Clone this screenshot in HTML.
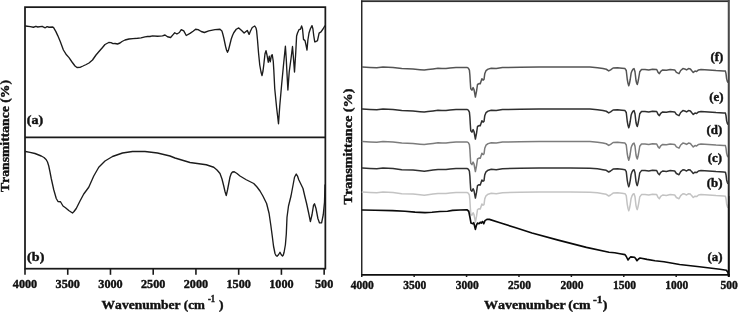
<!DOCTYPE html>
<html><head><meta charset="utf-8"><title>FTIR spectra</title>
<style>
html,body{margin:0;padding:0;background:#fff;}
body{width:738px;height:312px;overflow:hidden;position:relative;}
svg{position:absolute;left:0;top:0;display:block;}
text{font-family:"Liberation Serif","Times New Roman",serif;font-weight:bold;font-kerning:none;fill:#111;stroke:#111;stroke-width:0.4px;}
</style></head><body>
<svg width="738" height="312" viewBox="0 0 738 312">
<rect x="0" y="0" width="738" height="312" fill="#ffffff"/>
<g stroke="#1a1a1a" fill="none">
<rect x="25.0" y="7.15" width="300.35" height="261.55" stroke-width="1.75"/>
<line x1="25.0" y1="137.25" x2="325.35" y2="137.25" stroke-width="1.75"/>
<line x1="25.00" y1="268.7" x2="25.00" y2="274.8" stroke-width="1.6"/>
<line x1="67.74" y1="268.7" x2="67.74" y2="274.8" stroke-width="1.6"/>
<line x1="110.47" y1="268.7" x2="110.47" y2="274.8" stroke-width="1.6"/>
<line x1="153.21" y1="268.7" x2="153.21" y2="274.8" stroke-width="1.6"/>
<line x1="195.94" y1="268.7" x2="195.94" y2="274.8" stroke-width="1.6"/>
<line x1="238.68" y1="268.7" x2="238.68" y2="274.8" stroke-width="1.6"/>
<line x1="281.41" y1="268.7" x2="281.41" y2="274.8" stroke-width="1.6"/>
<line x1="324.15" y1="268.7" x2="324.15" y2="274.8" stroke-width="1.6"/>
</g>
<polyline points="25.50,26.00 30.25,26.60 33.40,27.25 35.90,26.30 37.75,27.00 42.10,26.30 45.25,27.80 47.10,26.60 49.00,27.25 52.75,27.00 53.60,27.60 55.90,31.60 57.75,35.60 60.25,41.50 63.40,50.00 66.00,54.20 69.00,57.60 72.00,62.00 75.00,66.00 77.00,67.50 80.00,67.30 83.00,66.00 86.25,64.50 89.00,63.00 92.50,60.00 96.00,55.00 99.00,51.50 102.50,47.50 105.00,44.50 108.75,42.50 111.00,42.60 113.00,43.60 115.00,43.50 117.50,44.00 120.00,43.00 122.00,41.50 125.00,40.00 129.00,39.00 133.00,38.60 137.50,38.25 141.00,37.80 145.00,36.80 147.50,36.50 150.00,36.50 152.50,35.90 157.50,36.25 162.50,35.90 165.00,35.00 167.50,36.75 170.60,37.50 173.10,34.60 174.75,32.75 176.90,34.00 179.40,32.50 181.25,29.60 183.75,30.90 186.25,35.50 190.00,33.40 193.10,31.25 195.60,29.25 198.10,29.60 201.25,31.50 204.40,32.50 208.75,30.90 215.00,29.60 220.00,29.25 221.90,30.90 222.80,34.00 223.75,37.75 225.60,46.50 226.60,50.30 227.50,52.30 228.40,50.30 229.40,46.50 231.25,39.00 232.50,35.50 233.75,32.75 236.25,29.25 238.75,27.90 241.60,30.60 244.10,33.10 247.25,30.40 249.10,34.40 250.50,31.00 252.25,27.50 254.75,26.00 256.00,28.00 256.60,30.60 257.50,40.00 258.50,52.50 259.75,65.00 261.00,72.00 262.00,75.60 263.00,71.00 263.75,65.00 265.00,53.75 266.00,50.60 267.00,55.00 268.25,62.25 269.25,56.25 270.25,61.90 271.40,55.60 272.25,54.75 273.25,61.25 273.80,70.00 274.75,88.75 276.60,107.50 278.50,123.75 279.75,106.00 281.60,85.00 283.50,65.00 285.40,46.25 286.25,58.75 286.80,70.00 287.90,90.00 289.20,72.00 291.00,58.75 292.50,46.50 293.50,58.75 294.50,72.00 295.75,52.50 296.60,36.00 297.50,33.00 299.10,29.40 300.40,29.40 301.60,26.00 302.50,28.75 303.50,39.40 305.00,40.60 306.00,45.00 307.00,50.00 307.90,40.00 309.00,33.00 310.40,28.75 312.00,25.60 312.90,28.75 313.80,36.00 314.75,41.90 316.00,41.50 317.50,40.60 319.10,33.10 321.00,31.90 323.00,29.00 324.75,26.00" fill="none" stroke="#1c1c1c" stroke-width="1.35" stroke-linejoin="round" stroke-linecap="round" />
<polyline points="25.50,151.50 30.00,152.30 35.00,153.50 41.25,156.00 44.00,157.50 46.25,159.75 47.50,162.00 48.75,166.00 50.00,172.00 51.25,178.50 53.75,189.75 56.25,198.50 58.00,201.50 60.50,201.75 63.00,206.00 65.50,207.75 68.75,210.50 72.50,213.00 74.00,211.50 76.25,208.50 80.00,201.00 83.75,194.00 88.75,187.25 93.75,176.00 98.75,167.25 105.00,161.00 112.50,156.50 122.50,153.00 132.50,151.50 145.00,151.50 157.50,153.00 170.00,156.00 175.00,158.00 190.00,162.50 206.25,164.75 213.75,167.25 217.00,170.00 220.00,173.50 222.00,179.00 223.75,186.00 225.00,191.50 226.25,195.50 227.50,190.00 228.75,183.50 230.00,177.00 231.25,173.50 232.50,172.00 234.25,171.75 237.00,173.50 240.00,176.00 246.25,179.75 253.75,183.50 257.00,187.00 260.00,191.00 262.90,196.00 266.60,203.50 269.10,213.50 270.75,224.75 272.25,236.00 273.50,246.00 275.00,253.50 276.00,255.50 277.00,256.25 278.50,254.75 280.00,252.25 281.25,254.75 282.50,256.00 283.30,255.00 284.10,252.25 285.40,244.75 286.30,234.00 287.00,217.25 288.50,206.00 291.00,196.00 292.50,188.00 294.50,177.25 296.25,174.00 297.50,176.00 298.75,179.75 303.00,188.50 304.75,196.00 306.60,203.50 308.50,212.25 310.40,221.60 312.00,214.75 313.50,205.40 314.50,203.75 316.00,208.50 317.90,218.50 319.50,222.90 321.60,222.90 323.25,214.75 324.50,202.25 325.00,185.00" fill="none" stroke="#1c1c1c" stroke-width="1.35" stroke-linejoin="round" stroke-linecap="round" />
<defs><linearGradient id="rg" x1="0" y1="0" x2="0" y2="1"><stop offset="0" stop-color="#4c4c4c"/><stop offset="0.6" stop-color="#383838"/><stop offset="0.75" stop-color="#1a1a1a"/><stop offset="1" stop-color="#0c0c0c"/></linearGradient></defs>
<rect x="361.05" y="0" width="368.7999999999999" height="1.05" fill="#6a6a6a"/>
<rect x="361.05" y="1" width="368.7999999999999" height="1.08" fill="#303030"/>
<g stroke="#1e1e1e" fill="none">
<line x1="361.75" y1="0.5" x2="361.75" y2="274.85" stroke-width="1.4"/>
<line x1="361.05" y1="274.85" x2="729.8499999999999" y2="274.85" stroke-width="1.7" stroke="#0e0e0e"/>
<line x1="361.75" y1="274.85" x2="361.75" y2="277.0" stroke-width="1.5"/>
<line x1="414.16" y1="274.85" x2="414.16" y2="277.0" stroke-width="1.5"/>
<line x1="466.56" y1="274.85" x2="466.56" y2="277.0" stroke-width="1.5"/>
<line x1="518.97" y1="274.85" x2="518.97" y2="277.0" stroke-width="1.5"/>
<line x1="571.38" y1="274.85" x2="571.38" y2="277.0" stroke-width="1.5"/>
<line x1="623.79" y1="274.85" x2="623.79" y2="277.0" stroke-width="1.5"/>
<line x1="676.19" y1="274.85" x2="676.19" y2="277.0" stroke-width="1.5"/>
</g>
<polyline points="362.40,192.10 370.00,192.50 376.75,192.85 383.00,192.10 388.00,192.30 393.00,192.50 401.75,193.70 413.00,194.10 420.00,194.80 424.25,195.20 428.00,194.70 433.00,194.00 438.00,193.40 442.00,193.50 446.00,193.60 450.00,193.00 456.00,192.50 466.90,192.50 468.30,193.20 469.40,195.20 469.90,200.40 470.30,207.40 470.75,213.90 471.90,215.20 473.10,212.70 474.00,214.60 475.40,222.10 476.50,216.40 477.50,209.60 479.00,208.70 480.25,208.90 481.90,203.90 483.10,205.20 484.00,204.60 484.75,198.90 486.00,195.80 488.10,194.20 491.25,193.30 496.25,193.70 502.50,192.70 520.00,192.30 539.00,192.10 570.00,192.10 590.00,192.20 597.50,192.85 603.00,193.70 606.25,194.35 608.75,196.00 610.60,195.00 613.10,193.10 617.50,192.85 622.00,193.30 625.00,193.70 626.25,195.60 627.25,204.35 628.00,208.40 628.75,210.85 629.50,208.40 630.25,204.35 631.10,198.40 631.90,196.20 633.00,194.20 634.00,193.70 635.00,196.85 636.00,205.60 636.70,208.40 637.25,209.60 637.90,207.40 638.50,204.35 639.75,196.85 641.50,194.60 645.00,194.60 648.75,195.00 652.50,194.35 656.70,194.60 658.10,197.50 659.40,198.70 660.70,196.40 662.70,195.00 666.40,195.40 670.20,194.60 674.70,195.00 676.40,197.50 679.00,198.70 680.70,195.60 682.90,193.70 684.75,194.10 686.60,195.00 688.50,193.70 690.40,194.10 691.60,195.60 693.25,197.50 695.00,196.20 696.60,196.60 698.50,195.00 701.00,194.60 708.50,195.00 716.00,195.60 723.50,196.00 725.40,196.20 726.00,198.70 726.60,203.70 727.25,206.20 727.80,207.40" fill="none" stroke="#c3c3c3" stroke-width="1.5" stroke-linejoin="round" stroke-linecap="round" />
<polyline points="362.40,168.10 370.00,168.50 376.75,168.85 383.00,168.10 388.00,168.30 393.00,168.50 401.75,169.70 413.00,170.10 420.00,170.80 424.25,171.20 428.00,170.70 433.00,170.00 438.00,169.40 442.00,169.50 446.00,169.60 450.00,169.00 456.00,168.50 466.90,168.50 468.30,169.20 469.40,171.20 469.90,176.40 470.30,183.40 470.75,189.90 471.90,191.20 473.10,188.70 474.00,190.60 475.40,198.10 476.50,192.40 477.50,185.60 479.00,184.70 480.25,184.90 481.90,179.90 483.10,181.20 484.00,180.60 484.75,174.90 486.00,171.80 488.10,170.20 491.25,169.30 496.25,169.70 502.50,168.70 520.00,168.30 539.00,168.10 570.00,168.10 590.00,168.20 597.50,168.85 603.00,169.70 606.25,170.35 608.75,172.00 610.60,171.00 613.10,169.10 617.50,168.85 622.00,169.30 625.00,169.70 626.25,171.60 627.25,180.35 628.00,184.40 628.75,186.85 629.50,184.40 630.25,180.35 631.10,174.40 631.90,172.20 633.00,170.20 634.00,169.70 635.00,172.85 636.00,181.60 636.70,184.40 637.25,185.60 637.90,183.40 638.50,180.35 639.75,172.85 641.50,170.60 645.00,170.60 648.75,171.00 652.50,170.35 656.70,170.60 658.10,173.50 659.40,174.70 660.70,172.40 662.70,171.00 666.40,171.40 670.20,170.60 674.70,171.00 676.40,173.50 679.00,174.70 680.70,171.60 682.90,169.70 684.75,170.10 686.60,171.00 688.50,169.70 690.40,170.10 691.60,171.60 693.25,173.50 695.00,172.20 696.60,172.60 698.50,171.00 701.00,170.60 708.50,171.00 716.00,171.60 723.50,172.00 725.40,172.20 726.00,174.70 726.60,179.70 727.25,182.20 727.80,183.40" fill="none" stroke="#303030" stroke-width="1.5" stroke-linejoin="round" stroke-linecap="round" />
<polyline points="362.40,141.50 370.00,141.90 376.75,142.25 383.00,141.50 388.00,141.70 393.00,141.90 401.75,143.10 413.00,143.50 420.00,144.20 424.25,144.60 428.00,144.10 433.00,143.40 438.00,142.80 442.00,142.90 446.00,143.00 450.00,142.40 456.00,141.90 466.90,141.90 468.30,142.60 469.40,144.60 469.90,149.80 470.30,156.80 470.75,163.30 471.90,164.60 473.10,162.10 474.00,164.00 475.40,171.50 476.50,165.80 477.50,159.00 479.00,158.10 480.25,158.30 481.90,153.30 483.10,154.60 484.00,154.00 484.75,148.30 486.00,145.20 488.10,143.60 491.25,142.70 496.25,143.10 502.50,142.10 520.00,141.70 539.00,141.50 570.00,141.50 590.00,141.60 597.50,142.25 603.00,143.10 606.25,143.75 608.75,145.40 610.60,144.40 613.10,142.50 617.50,142.25 622.00,142.70 625.00,143.10 626.25,145.00 627.25,153.75 628.00,157.80 628.75,160.25 629.50,157.80 630.25,153.75 631.10,147.80 631.90,145.60 633.00,143.60 634.00,143.10 635.00,146.25 636.00,155.00 636.70,157.80 637.25,159.00 637.90,156.80 638.50,153.75 639.75,146.25 641.50,144.00 645.00,144.00 648.75,144.40 652.50,143.75 656.70,144.00 658.10,146.90 659.40,148.10 660.70,145.80 662.70,144.40 666.40,144.80 670.20,144.00 674.70,144.40 676.40,146.90 679.00,148.10 680.70,145.00 682.90,143.10 684.75,143.50 686.60,144.40 688.50,143.10 690.40,143.50 691.60,145.00 693.25,146.90 695.00,145.60 696.60,146.00 698.50,144.40 701.00,144.00 708.50,144.40 716.00,145.00 723.50,145.40 725.40,145.60 726.00,148.10 726.60,153.10 727.25,155.60 727.80,156.80" fill="none" stroke="#7c7c7c" stroke-width="1.5" stroke-linejoin="round" stroke-linecap="round" />
<polyline points="362.40,109.00 370.00,109.40 376.75,109.75 383.00,109.00 388.00,109.20 393.00,109.40 401.75,110.60 413.00,111.00 420.00,111.70 424.25,112.10 428.00,111.60 433.00,110.90 438.00,110.30 442.00,110.40 446.00,110.50 450.00,109.90 456.00,109.40 466.90,109.40 468.30,110.10 469.40,112.10 469.90,117.30 470.30,124.30 470.75,130.80 471.90,132.10 473.10,129.60 474.00,131.50 475.40,139.00 476.50,133.30 477.50,126.50 479.00,125.60 480.25,125.80 481.90,120.80 483.10,122.10 484.00,121.50 484.75,115.80 486.00,112.70 488.10,111.10 491.25,110.20 496.25,110.60 502.50,109.60 520.00,109.20 539.00,109.00 570.00,109.00 590.00,109.10 597.50,109.75 603.00,110.60 606.25,111.25 608.75,112.90 610.60,111.90 613.10,110.00 617.50,109.75 622.00,110.20 625.00,110.60 626.25,112.50 627.25,121.25 628.00,125.30 628.75,127.75 629.50,125.30 630.25,121.25 631.10,115.30 631.90,113.10 633.00,111.10 634.00,110.60 635.00,113.75 636.00,122.50 636.70,125.30 637.25,126.50 637.90,124.30 638.50,121.25 639.75,113.75 641.50,111.50 645.00,111.50 648.75,111.90 652.50,111.25 656.70,111.50 658.10,114.40 659.40,115.60 660.70,113.30 662.70,111.90 666.40,112.30 670.20,111.50 674.70,111.90 676.40,114.40 679.00,115.60 680.70,112.50 682.90,110.60 684.75,111.00 686.60,111.90 688.50,110.60 690.40,111.00 691.60,112.50 693.25,114.40 695.00,113.10 696.60,113.50 698.50,111.90 701.00,111.50 708.50,111.90 716.00,112.50 723.50,112.90 725.40,113.10 726.00,115.60 726.60,120.60 727.25,123.10 727.80,124.30" fill="none" stroke="#2e2e2e" stroke-width="1.5" stroke-linejoin="round" stroke-linecap="round" />
<polyline points="362.40,67.00 370.00,67.40 376.75,67.75 383.00,67.00 388.00,67.20 393.00,67.40 401.75,68.60 413.00,69.00 420.00,69.70 424.25,70.10 428.00,69.60 433.00,68.90 438.00,68.30 442.00,68.40 446.00,68.50 450.00,67.90 456.00,67.40 466.90,67.40 468.30,68.10 469.40,70.10 469.90,75.30 470.30,82.30 470.75,88.80 471.90,90.10 473.10,87.60 474.00,89.50 475.40,97.00 476.50,91.30 477.50,84.50 479.00,83.60 480.25,83.80 481.90,78.80 483.10,80.10 484.00,79.50 484.75,73.80 486.00,70.70 488.10,69.10 491.25,68.20 496.25,68.60 502.50,67.60 520.00,67.20 539.00,67.00 570.00,67.00 590.00,67.10 597.50,67.75 603.00,68.60 606.25,69.25 608.75,70.90 610.60,69.90 613.10,68.00 617.50,67.75 622.00,68.20 625.00,68.60 626.25,70.50 627.25,79.25 628.00,83.30 628.75,85.75 629.50,83.30 630.25,79.25 631.10,73.30 631.90,71.10 633.00,69.10 634.00,68.60 635.00,71.75 636.00,80.50 636.70,83.30 637.25,84.50 637.90,82.30 638.50,79.25 639.75,71.75 641.50,69.50 645.00,69.50 648.75,69.90 652.50,69.25 656.70,69.50 658.10,72.40 659.40,73.60 660.70,71.30 662.70,69.90 666.40,70.30 670.20,69.50 674.70,69.90 676.40,72.40 679.00,73.60 680.70,70.50 682.90,68.60 684.75,69.00 686.60,69.90 688.50,68.60 690.40,69.00 691.60,70.50 693.25,72.40 695.00,71.10 696.60,71.50 698.50,69.90 701.00,69.50 708.50,69.90 716.00,70.50 723.50,70.90 725.40,71.10 726.00,73.60 726.60,78.60 727.25,81.10 727.80,82.30" fill="none" stroke="#545454" stroke-width="1.5" stroke-linejoin="round" stroke-linecap="round" />
<polyline points="362.40,210.00 375.00,210.20 392.50,210.60 405.00,211.30 415.00,212.10 425.00,212.60 432.00,212.20 440.00,211.50 447.50,211.25 452.50,210.40 460.00,210.00 466.90,209.75 468.75,211.25 470.00,217.50 471.00,223.10 472.75,223.75 473.75,222.75 475.40,229.40 476.50,225.00 477.50,223.10 479.00,223.75 480.25,222.25 481.25,223.10 482.50,221.50 483.75,223.75 485.00,220.60 486.90,219.40 489.40,219.40 500.00,222.70 515.00,227.50 532.00,233.00 558.20,240.10 586.40,247.40 609.00,252.20 614.70,252.80 620.00,253.70 625.00,254.60 626.30,256.50 628.00,260.00 629.50,258.00 630.75,256.90 634.50,257.20 635.80,258.80 637.00,260.75 638.50,259.00 640.00,258.00 647.00,259.40 655.00,260.70 664.00,261.70 679.60,264.50 699.40,266.80 720.00,269.30 726.40,270.30 728.00,272.50 728.40,274.80" fill="none" stroke="#0a0a0a" stroke-width="1.65" stroke-linejoin="round" stroke-linecap="round" />
<rect x="727.75" y="0" width="2.1" height="277.0" fill="url(#rg)"/>
<rect x="728.9499999999999" y="0" width="0.9" height="196" fill="#707070" opacity="0.85"/>
<text transform="translate(25.0 288.4) scale(1.06 1.0)" font-size="11.5" text-anchor="middle">4000</text>
<text transform="translate(67.74 288.4) scale(1.06 1.0)" font-size="11.5" text-anchor="middle">3500</text>
<text transform="translate(110.47 288.4) scale(1.06 1.0)" font-size="11.5" text-anchor="middle">3000</text>
<text transform="translate(153.21 288.4) scale(1.06 1.0)" font-size="11.5" text-anchor="middle">2500</text>
<text transform="translate(195.94 288.4) scale(1.06 1.0)" font-size="11.5" text-anchor="middle">2000</text>
<text transform="translate(238.68 288.4) scale(1.06 1.0)" font-size="11.5" text-anchor="middle">1500</text>
<text transform="translate(281.41 288.4) scale(1.06 1.0)" font-size="11.5" text-anchor="middle">1000</text>
<text transform="translate(324.15 288.4) scale(1.06 1.0)" font-size="11.5" text-anchor="middle">500</text>
<text transform="translate(362.35 288.7) scale(1.0 1.0)" font-size="11.5" text-anchor="middle">4000</text>
<text transform="translate(414.76 288.7) scale(1.0 1.0)" font-size="11.5" text-anchor="middle">3500</text>
<text transform="translate(467.16 288.7) scale(1.0 1.0)" font-size="11.5" text-anchor="middle">3000</text>
<text transform="translate(519.57 288.7) scale(1.0 1.0)" font-size="11.5" text-anchor="middle">2500</text>
<text transform="translate(571.98 288.7) scale(1.0 1.0)" font-size="11.5" text-anchor="middle">2000</text>
<text transform="translate(624.39 288.7) scale(1.0 1.0)" font-size="11.5" text-anchor="middle">1500</text>
<text transform="translate(676.79 288.7) scale(1.0 1.0)" font-size="11.5" text-anchor="middle">1000</text>
<text transform="translate(729.2 288.7) scale(1.0 1.0)" font-size="11.5" text-anchor="middle">500</text>
<text transform="translate(101.6 308.7) scale(1.058 1.0)" font-size="12.8" text-anchor="start">Wavenumber</text>
<text transform="translate(183.8 308.7) scale(1.02 1.0)" font-size="12.8" text-anchor="start">(cm</text>
<text transform="translate(208 301.9) scale(0.9 1.0)" font-size="9.5" text-anchor="start">-1</text>
<text transform="translate(219.0 308.7) scale(1.058 1.0)" font-size="12.8" text-anchor="start">)</text>
<text transform="translate(483.9 308.7) scale(1.046 1.0)" font-size="13.4" text-anchor="start">Wavenumber</text>
<text transform="translate(568.2 308.7) scale(1.04 1.0)" font-size="13.4" text-anchor="start">(cm</text>
<text transform="translate(593 303) scale(1.05 1.0)" font-size="11" text-anchor="start">-1</text>
<text transform="translate(602.7 308.7) scale(1.046 1.0)" font-size="13.4" text-anchor="start">)</text>
<text transform="translate(9.4 192) rotate(-90) scale(1.113 1.0)" font-size="12.3" text-anchor="start">Transmittance (%)</text>
<text transform="translate(352.2 204.5) rotate(-90) scale(1.089 1.0)" font-size="13" text-anchor="start">Transmittance (%)</text>
<text transform="translate(26.8 124) scale(1.13 1.0)" font-size="12.5" text-anchor="start">(a)</text>
<text transform="translate(27.1 261) scale(1.13 1.0)" font-size="12.5" text-anchor="start">(b)</text>
<text transform="translate(723.3 60.5) scale(1.04 1.0)" font-size="12.4" text-anchor="end">(f)</text>
<text transform="translate(723.6 101.1) scale(1.04 1.0)" font-size="12.4" text-anchor="end">(e)</text>
<text transform="translate(722.3 133.8) scale(1.04 1.0)" font-size="12.4" text-anchor="end">(d)</text>
<text transform="translate(722.0 162.0) scale(1.04 1.0)" font-size="12.4" text-anchor="end">(c)</text>
<text transform="translate(722.5 187.1) scale(1.04 1.0)" font-size="12.4" text-anchor="end">(b)</text>
<text transform="translate(722.5 260.5) scale(1.04 1.0)" font-size="12.4" text-anchor="end">(a)</text>
</svg></body></html>
